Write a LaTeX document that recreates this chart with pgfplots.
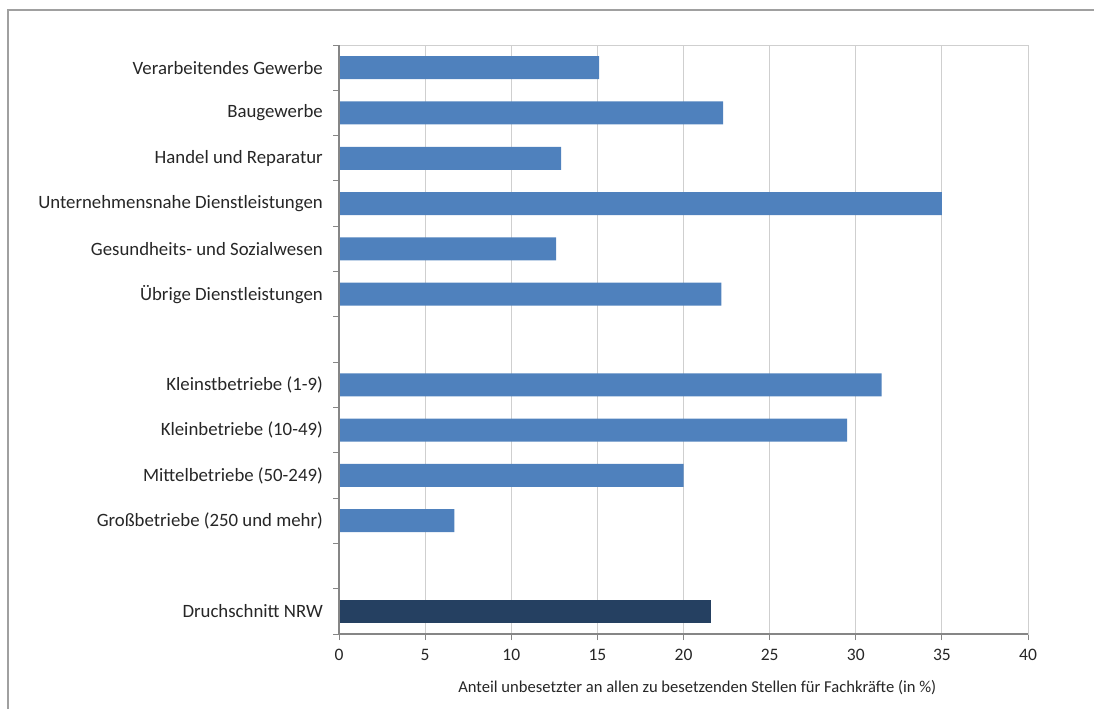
\documentclass[border=0pt]{standalone}
\usepackage{fontspec}
\setmainfont{Carlito}
\usepackage{pgfplots}
\pgfplotsset{compat=1.18}
\definecolor{barblue}{HTML}{4F81BD}
\definecolor{bardark}{HTML}{254061}
\definecolor{axgray}{HTML}{868686}
\definecolor{gridgray}{HTML}{CFCFCF}
\definecolor{framegray}{HTML}{A0A0A0}
\begin{document}
\begin{tikzpicture}
\path[use as bounding box] (0pt,0pt) rectangle (1094pt,709pt);
% outer frame of the chart area
\draw[color=framegray, line width=2pt] (8pt,0pt) -- (8pt,699pt) -- (1094pt,699pt);
\begin{axis}[
  at={(339pt,75pt)}, anchor=south west,
  scale only axis, width=689pt, height=589pt,
  xmin=0, xmax=40, xtick={0,5,...,40},
  ymin=-0.5, ymax=12.5, y dir=reverse,
  ytick={-0.5,0.5,...,12.5}, yticklabels={},
  extra y ticks={0,...,12},
  extra y tick labels={Verarbeitendes Gewerbe, Baugewerbe, Handel und Reparatur,
    Unternehmensnahe Dienstleistungen, Gesundheits- und Sozialwesen,
    Übrige Dienstleistungen, {}, Kleinstbetriebe (1-9), Kleinbetriebe (10-49),
    Mittelbetriebe (50-249), Großbetriebe (250 und mehr), {}, Druchschnitt NRW},
  extra y tick style={major tick length=0pt, yticklabel style={xshift=-16pt}},
  tick pos=left,
  tick align=outside, major tick length=6pt,
  tick style={color=axgray, line width=1pt},
  xmajorgrids, grid style={color=gridgray, line width=1pt},
  axis line style={color=gridgray, line width=1pt},
  /pgf/number format/assume math mode=true,
  yticklabel style={font=\fontsize{18.8}{22}\selectfont, color=black!85, inner sep=0pt},
  xticklabel style={font=\fontsize{17.5}{20}\selectfont, color=black!85, inner sep=0pt, yshift=-9pt},
  xlabel={Anteil unbesetzter an allen zu besetzenden Stellen für Fachkräfte (in \%)},
  xlabel style={font=\fontsize{16.6}{19}\selectfont, color=black!85,
    at={(axis description cs:0.52,0)}, anchor=center, yshift=-54pt},
  clip=false,
]
\addplot[xbar, bar width=23pt, bar shift=0pt, fill=barblue, draw=none] coordinates {
  (15.1,0) (22.3,1) (12.9,2) (35.0,3) (12.6,4) (22.2,5)
  (31.5,7) (29.5,8) (20.0,9) (6.7,10)
};
\addplot[xbar, bar width=23pt, bar shift=0pt, fill=bardark, draw=none] coordinates {
  (21.6,12)
};
% darker left and bottom axis lines
\draw[color=axgray, line width=2pt] (axis description cs:0,1) -- (axis description cs:0,0) -- (axis description cs:1,0);
\end{axis}
\end{tikzpicture}
\end{document}
